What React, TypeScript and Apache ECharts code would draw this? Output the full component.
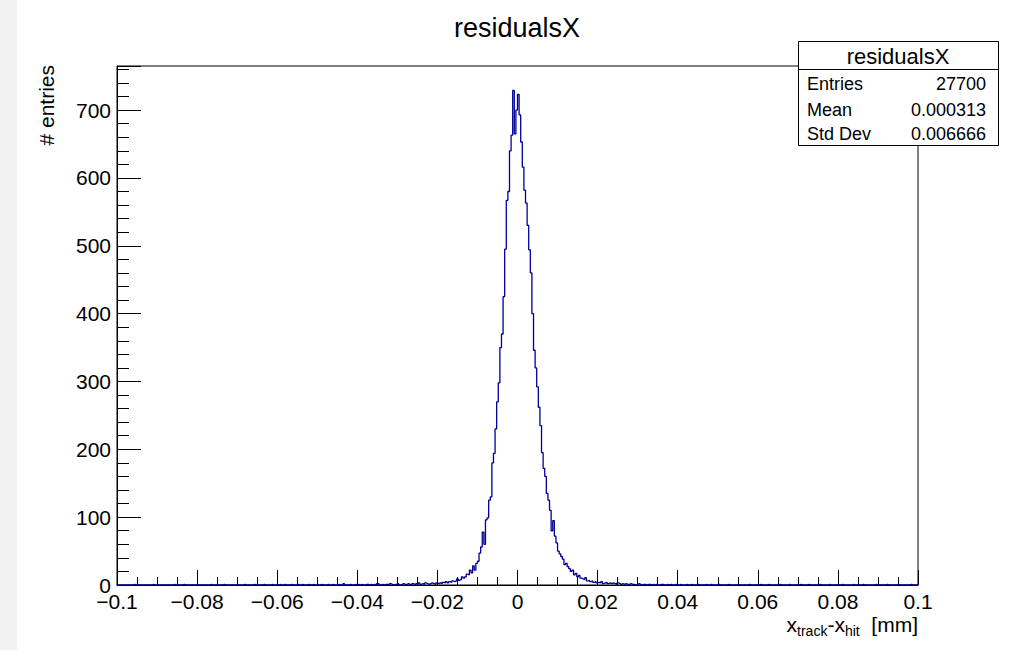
import React, { useEffect, useRef } from "react";
import * as echarts from "echarts";

// Histogram binning: 500 bins of width 0.0004 over [-0.1, 0.1]
const X_MIN = -0.1;
const X_MAX = 0.1;
const BIN_WIDTH = 0.0004;

// bins 0-199
const leftTail = [
  0,0,0,0,0,0,0,0,0,0, 1,0,0,0,0,0,0,0,0,0, 0,0,1,0,0,0,0,0,0,0, 0,0,0,0,0,1,0,0,0,0, 0,1,0,0,0,0,0,0,0,0,
  0,0,0,0,0,0,0,0,1,0, 0,0,0,0,0,0,1,0,0,0, 0,0,0,0,0,0,0,0,0,1, 0,0,0,0,0,1,0,0,0,0, 0,1,0,0,0,0,1,0,0,0,
  0,1,0,0,1,0,0,0,1,0, 0,0,1,0,0,1,0,0,0,1, 0,0,1,0,0,0,0,1,0,0, 0,1,0,0,1,0,0,0,1,0, 0,2,0,0,0,1,0,0,1,0,
  1,0,1,0,0,1,1,0,1,0, 1,0,2,1,0,1,0,1,1,0, 2,1,0,1,1,2,0,1,2,1, 1,2,1,0,2,1,2,1,3,1, 2,1,3,2,1,2,3,2,1,3,
];

// bins 200-299
const core = [
  2,3,2,4,3,5,3,5,4,6,
  5,6,9,7,8,12,10,12,16,15,
  22,18,28,22,32,35,47,56,78,60,
  96,99,125,130,180,194,230,270,298,350,
  370,425,495,567,580,640,663,729,665,700,
  723,693,653,616,582,563,530,494,460,400,
  346,320,292,262,235,195,172,160,135,125,
  110,80,95,72,62,50,46,42,38,30,
  32,27,24,20,22,15,17,12,14,10,
  9,8,11,6,7,5,6,4,5,3,
];

// bins 300-499
const rightTail = [
  4,3,5,2,3,4,2,3,2,3, 2,1,3,2,1,2,1,2,1,1, 2,1,1,0,1,2,1,0,1,1, 0,1,1,0,1,0,1,0,0,1, 1,0,0,1,0,1,0,0,1,0,
  0,1,0,0,0,1,0,0,1,0, 0,0,1,0,0,0,0,1,0,0, 1,0,0,0,0,1,0,0,0,0, 0,1,0,0,0,0,0,1,0,0, 0,0,0,0,1,0,0,0,0,0,
  0,1,0,0,0,0,1,0,0,0, 0,0,0,1,0,0,0,0,0,1, 0,0,0,0,0,0,1,0,0,0, 0,1,0,0,0,0,0,0,1,0, 0,0,0,0,1,0,0,0,0,0,
  0,0,1,0,0,0,0,0,0,1, 0,0,0,0,0,1,0,0,0,0, 0,0,0,1,0,0,0,0,0,0, 1,0,0,0,0,0,0,1,0,0, 0,0,0,0,0,1,0,0,0,0,
];

const Y_MIN = 0;
const Y_MAX = 765;
const Y_MAJOR = 100;
const Y_MINOR = 20;
const X_MAJOR = 0.02;

const titleText = "residualsX";
const yTitle = "# entries";
const statsTitle = "residualsX";
const statsLabels = ["Entries", "Mean", "Std Dev"];
const statsValues = ["27700", "0.000313", "0.006666"];

const FONT = "'Liberation Sans', Arial, Helvetica, sans-serif";

export default function App() {
  const ref = useRef<HTMLDivElement>(null);

  useEffect(() => {
    document.body.style.margin = "0";
    if (!ref.current) return;
    const chart = echarts.init(ref.current, undefined, { renderer: "svg" });

    const counts = [...leftTail, ...core, ...rightTail];
    const points: number[][] = counts.map((c, i) => [X_MIN + i * BIN_WIDTH, c]);
    points.push([X_MAX, counts[counts.length - 1]]);

    const fmtX = (v: number) => {
      const r = Math.round(v * 100) / 100;
      if (Math.abs(r) < 1e-9) return "0";
      const s = String(Math.abs(r));
      return (r < 0 ? "\u2212" : "") + s;
    };

    const boxL = 798, boxT = 41, boxW = 200, boxH = 104;
    const rowY = [84, 110, 134];

    const statsGraphics: any[] = [
      {
        type: "rect",
        z: 100,
        shape: { x: boxL + 0.5, y: boxT + 0.5, width: boxW, height: boxH },
        style: { fill: "#fff", stroke: "#000", lineWidth: 1 },
      },
      {
        type: "line",
        z: 101,
        shape: { x1: boxL + 0.5, y1: 69.5, x2: boxL + boxW + 0.5, y2: 69.5 },
        style: { stroke: "#000", lineWidth: 1 },
      },
      {
        type: "text",
        z: 101,
        x: boxL + boxW / 2,
        y: 56,
        style: { text: statsTitle, fontSize: 22, fontFamily: FONT, fill: "#000", align: "center", verticalAlign: "middle" },
      },
    ];
    statsLabels.forEach((l, i) => {
      statsGraphics.push({
        type: "text",
        z: 101,
        x: 807,
        y: rowY[i],
        style: { text: l, fontSize: 18, fontFamily: FONT, fill: "#000", align: "left", verticalAlign: "middle" },
      });
      statsGraphics.push({
        type: "text",
        z: 101,
        x: 986,
        y: rowY[i],
        style: { text: statsValues[i], fontSize: 18, fontFamily: FONT, fill: "#000", align: "right", verticalAlign: "middle" },
      });
    });

    const option: any = {
      animation: false,
      backgroundColor: "#fff",
      grid: {
        left: 117,
        right: 97,
        top: 66,
        bottom: 65,
        show: true,
        borderColor: "#000",
        borderWidth: 1,
        backgroundColor: "#fff",
      },
      xAxis: {
        type: "value",
        min: X_MIN,
        max: X_MAX,
        interval: X_MAJOR,
        axisLine: { show: true, onZero: false, lineStyle: { color: "#000", width: 1 } },
        axisTick: { show: true, inside: true, length: 15, lineStyle: { color: "#000", width: 1 } },
        minorTick: { show: true, splitNumber: 4, length: 8, lineStyle: { color: "#000", width: 1 } },
        splitLine: { show: false },
        minorSplitLine: { show: false },
        axisLabel: {
          fontSize: 21,
          lineHeight: 18,
          fontFamily: FONT,
          color: "#000",
          margin: 7,
          formatter: fmtX,
          showMinLabel: true,
          showMaxLabel: true,
        },
      },
      yAxis: [
        {
          type: "value",
          min: Y_MIN,
          max: Y_MAX,
          interval: Y_MAJOR,
          position: "left",
          axisLine: { show: true, onZero: false, lineStyle: { color: "#000", width: 1 } },
          axisTick: { show: true, inside: true, length: 24, lineStyle: { color: "#000", width: 1 } },
          splitLine: { show: false },
          axisLabel: {
            fontSize: 21,
            lineHeight: 14,
            fontFamily: FONT,
            color: "#000",
            margin: 6,
            formatter: (v: number) => (v % Y_MAJOR === 0 ? String(v) : ""),
          },
        },
        {
          type: "value",
          min: Y_MIN,
          max: Y_MAX,
          interval: Y_MINOR,
          position: "left",
          offset: 0,
          axisLine: { show: false, onZero: false },
          axisTick: { show: true, inside: true, length: 12, lineStyle: { color: "#000", width: 1 } },
          splitLine: { show: false },
          axisLabel: { show: false },
        },
      ],
      series: [
        {
          type: "line",
          step: "end",
          data: points,
          showSymbol: false,
          symbol: "none",
          clip: true,
          lineStyle: { color: "#000099", width: 1.3 },
          z: 5,
        },
      ],
      graphic: [
        {
          type: "rect",
          z: 0,
          shape: { x: 0, y: 0, width: 17, height: 650 },
          style: { fill: "#f2f2f2" },
        },
        {
          type: "text",
          z: 50,
          x: 517,
          y: 28,
          style: { text: titleText, fontSize: 27, fontFamily: FONT, fill: "#000", align: "center", verticalAlign: "middle" },
        },
        {
          type: "text",
          z: 50,
          x: 46,
          y: 65,
          rotation: Math.PI / 2,
          style: { text: yTitle, fontSize: 21, fontFamily: FONT, fill: "#000", align: "right", verticalAlign: "middle" },
        },
        {
          type: "text",
          z: 50,
          x: 918,
          y: 624,
          style: {
            text: "{m|x}{s|track}{m|-x}{s|hit}{m|  [mm]}",
            align: "right",
            verticalAlign: "middle",
            rich: {
              m: { fontSize: 21, fontFamily: FONT, fill: "#000", color: "#000", lineHeight: 28 },
              s: { fontSize: 14, fontFamily: FONT, fill: "#000", color: "#000", lineHeight: 14, verticalAlign: "bottom" },
            },
          },
        },
        ...statsGraphics,
      ],
    };

    chart.setOption(option);
    return () => chart.dispose();
  }, []);

  return (
    <div
      ref={ref}
      style={{ position: "absolute", left: 0, top: 0, width: 1015, height: 650 }}
    />
  );
}
